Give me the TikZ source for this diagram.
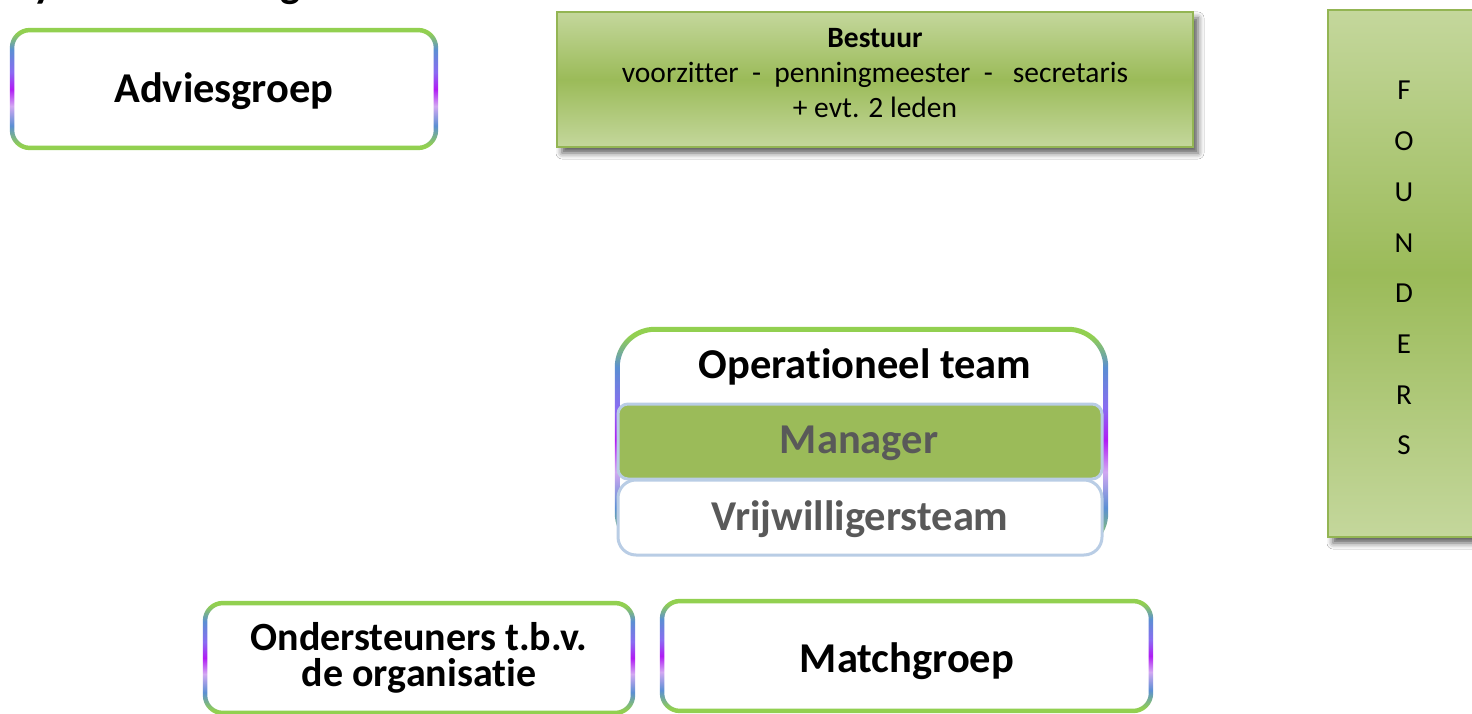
\documentclass[tikz,border=0pt]{standalone}
\usepackage{fontspec}
\setmainfont{Carlito}[Ligatures=NoCommon]
\usetikzlibrary{calc,shadows.blur}

\definecolor{rimgreen}{HTML}{92D050}
\definecolor{rimblue}{HTML}{5B8FD3}
\definecolor{rimviolet}{HTML}{8A6CF2}
\definecolor{rimpurple}{HTML}{B01CF4}
\definecolor{rimlav}{HTML}{D2A8F2}
\definecolor{olivelight}{HTML}{C4D79C}
\definecolor{olivemid}{HTML}{9BBB59}
\definecolor{olivedark}{HTML}{93B553}
\definecolor{paleblue}{HTML}{B9CDE5}
\definecolor{txtgray}{HTML}{595959}

% multicoloured frame: green on top and bottom, blue/violet/purple on the sides
\pgfdeclareverticalshading{rim}{100bp}{%
  color(0bp)=(rimgreen); color(27bp)=(rimgreen); color(35bp)=(rimblue);
  color(43bp)=(rimlav); color(50bp)=(rimpurple); color(57bp)=(rimviolet);
  color(66bp)=(rimblue); color(73bp)=(rimgreen); color(100bp)=(rimgreen)}

% #1 node, #2 outer radius, #3 inner radius, #4 frame width
\newcommand\rimframe[4]{%
  \shade[shading=rim, even odd rule]
    [rounded corners=#2] (#1.north west) rectangle (#1.south east)
    [rounded corners=#3] ($(#1.north west)+(#4,#4)$) rectangle ($(#1.south east)+(-#4,-#4)$);}

\begin{document}
\begin{tikzpicture}[x=1pt, y=-1pt,
  rimbox/.style={rectangle, fill=white, inner sep=0pt, rounded corners=20pt},
  panel/.style={rectangle, draw=olivedark, line width=2.5pt, inner sep=0pt,
    top color=olivelight, bottom color=olivelight, middle color=olivemid,
    blur shadow={shadow xshift=5pt, shadow yshift=-6pt, shadow blur radius=6pt, shadow opacity=65}},
  layer/.style={rectangle, draw=paleblue, line width=3pt, inner sep=0pt},
  bigtxt/.style={font=\bfseries\fontsize{42.5}{42.5}\selectfont, inner sep=0pt, anchor=base},
  midtxt/.style={font=\bfseries\fontsize{40}{40}\selectfont, inner sep=0pt, anchor=base},
  smalltxt/.style={font=\fontsize{29.5}{29.5}\selectfont, inner sep=0pt, anchor=base},
  lettertxt/.style={font=\fontsize{29}{29}\selectfont, inner sep=0pt, anchor=base},
]
\useasboundingbox (0,0) rectangle (1472,714);
\clip (0,0) rectangle (1472,714);
\fill[white] (0,0) rectangle (1472,714);

% heading, only its descenders reach into the page
\node[bigtxt] (heady) at (44,-2) {y};
\node[bigtxt] (headg) at (291,-2) {g};

% Adviesgroep
\node[rimbox, minimum width=428pt, minimum height=122pt] (adv) at (224,89) {};
\rimframe{adv}{20pt}{15.5pt}{4.5}
\node[bigtxt] (advtxt) at (224,103) {Adviesgroep};

% Bestuur
\node[panel, minimum width=636pt, minimum height=135pt] (bestuur) at (875,79.5) {};
\node[smalltxt, font=\bfseries\fontsize{29.5}{29.5}\selectfont] (bestuurA) at (875,48) {Bestuur};
\node[smalltxt] (bestuurB) at (875,83) {voorzitter\ \ -\ \ penningmeester\ \ -\ \ \ secretaris};
\node[smalltxt] (bestuurC) at (875,118) {+ evt. 2 leden};

% Founders column
\node[panel, minimum width=162pt, minimum height=527pt] (founders) at (1409,273.5) {};
\foreach \ch [count=\i] in {F,O,U,N,D,E,R,S}
  \node[lettertxt] (f\i) at (1404,{100+50.7*(\i-1)}) {\ch};

% Operationeel team with its two layers
\node[rimbox, rounded corners=40pt, minimum width=493pt, minimum height=226pt] (ops) at (861.5,440) {};
\rimframe{ops}{40pt}{35pt}{5}
\node[bigtxt] (opstxt) at (865,378) {Operationeel team};
\node[layer, fill=olivemid, rounded corners=10pt, minimum width=484pt, minimum height=75pt] (mgr) at (860,441.5) {};
\node[bigtxt, text=txtgray] (mgrtxt) at (859,453) {Manager};
\node[layer, fill=white, rounded corners=18pt, minimum width=484pt, minimum height=75pt] (vrij) at (860,517.5) {};
\node[bigtxt, text=txtgray] (vrijtxt) at (860,530) {Vrijwilligersteam};

% Ondersteuners
\node[rimbox, minimum width=432pt, minimum height=114pt] (ond) at (419,658) {};
\rimframe{ond}{20pt}{15.5pt}{4.5}
\node[midtxt] (ondA) at (419,650) {Ondersteuners t.b.v.};
\node[midtxt] (ondB) at (419,686) {de organisatie};

% Matchgroep
\node[rimbox, minimum width=493pt, minimum height=114pt] (match) at (906.5,656) {};
\rimframe{match}{20pt}{15.5pt}{4.5}
\node[bigtxt] (matchtxt) at (907,672) {Matchgroep};
\end{tikzpicture}
\end{document}
